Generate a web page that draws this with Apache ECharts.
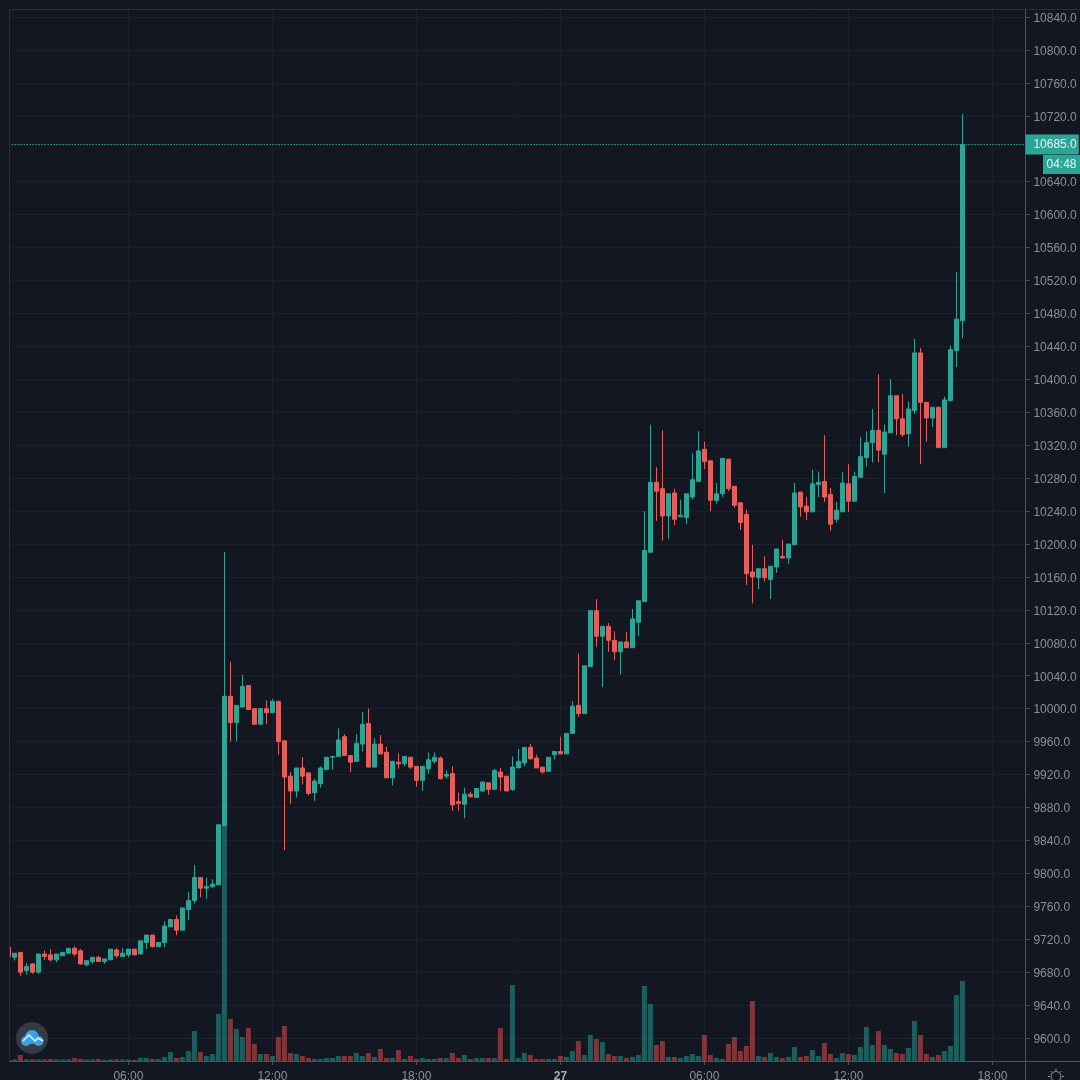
<!DOCTYPE html>
<html>
<head>
<meta charset="utf-8">
<title>Candlestick</title>
<style>
  html, body { margin: 0; padding: 0; background: #131722; }
  #chart { width: 1080px; height: 1080px; }
</style>
<script src="https://cdn.jsdelivr.net/npm/echarts@6/dist/echarts.min.js"></script>
</head>
<body>
<div id="chart"></div>
<script>
const opens = [
  9710, 9698, 9704, 9682, 9690, 9680, 9702, 9701, 9695, 9700, 9703, 9709, 9706, 9689, 9693, 9698, 9693, 9695, 9707, 9699,
  9701, 9708, 9702, 9716, 9725, 9711, 9716, 9735, 9744, 9731, 9756, 9767, 9795, 9782, 9784, 9786, 9858, 10015, 9983, 10002,
  10028, 10000, 9981, 10000, 9995, 10009, 9961, 9918, 9900, 9928, 9922, 9898, 9909, 9926, 9941, 9942, 9966, 9943, 9936, 9957,
  9982, 9929, 9957, 9947, 9916, 9935, 9933, 9941, 9930, 9913, 9927, 9936, 9940, 9918, 9921, 9887, 9884, 9896, 9892, 9900,
  9910, 9902, 9923, 9918, 9902, 9928, 9934, 9953, 9940, 9929, 9924, 9944, 9948, 9945, 9970, 10004, 9994, 10051, 10119, 10088,
  10100, 10083, 10069, 10081, 10074, 10105, 10130, 10190, 10275, 10267, 10234, 10262, 10233, 10232, 10257, 10276, 10315, 10301, 10253, 10261,
  10303, 10270, 10250, 10236, 10166, 10159, 10170, 10157, 10172, 10185, 10183, 10199, 10263, 10246, 10239, 10272, 10276, 10260, 10230, 10239,
  10273, 10252, 10281, 10305, 10323, 10338, 10309, 10335, 10380, 10352, 10334, 10362, 10432, 10372, 10353, 10366, 10317, 10374, 10435, 10471
];
const closes = [
  9699, 9703, 9680, 9687, 9680, 9702, 9699, 9695, 9702, 9704, 9709, 9702, 9690, 9694, 9698, 9693, 9696, 9708, 9700, 9703,
  9708, 9701, 9718, 9725, 9711, 9716, 9736, 9744, 9731, 9758, 9767, 9795, 9782, 9784, 9787, 9859, 10015, 9983, 10004, 10027,
  9999, 9981, 10000, 9995, 10009, 9960, 9917, 9900, 9928, 9918, 9897, 9912, 9928, 9941, 9942, 9962, 9943, 9935, 9958, 9981,
  9929, 9957, 9945, 9916, 9936, 9933, 9942, 9929, 9913, 9930, 9938, 9941, 9915, 9920, 9883, 9885, 9896, 9893, 9903, 9911,
  9902, 9925, 9917, 9900, 9929, 9936, 9953, 9939, 9928, 9923, 9941, 9948, 9945, 9970, 10003, 9994, 10052, 10119, 10088, 10100,
  10083, 10069, 10081, 10074, 10109, 10131, 10192, 10275, 10264, 10234, 10261, 10230, 10235, 10261, 10278, 10313, 10300, 10253, 10261, 10304,
  10267, 10247, 10226, 10164, 10160, 10170, 10159, 10173, 10194, 10183, 10200, 10262, 10245, 10239, 10273, 10275, 10257, 10224, 10241, 10274,
  10252, 10282, 10306, 10323, 10338, 10314, 10336, 10380, 10352, 10333, 10364, 10432, 10372, 10353, 10366, 10317, 10375, 10436, 10473, 10685
];
const lows = [
  9699, 9694, 9675, 9677, 9678, 9678, 9695, 9693, 9692, 9700, 9703, 9699, 9689, 9687, 9690, 9693, 9690, 9695, 9697, 9699,
  9698, 9701, 9702, 9708, 9710, 9711, 9710, 9735, 9725, 9731, 9743, 9763, 9771, 9769, 9782, 9786, 9858, 9960, 9960, 10002,
  9999, 9981, 9981, 9981, 9995, 9944, 9828, 9884, 9892, 9908, 9895, 9888, 9904, 9925, 9926, 9942, 9943, 9923, 9936, 9948,
  9929, 9929, 9945, 9916, 9907, 9927, 9930, 9927, 9905, 9900, 9921, 9933, 9914, 9915, 9876, 9876, 9867, 9892, 9892, 9899,
  9895, 9902, 9900, 9900, 9900, 9928, 9930, 9939, 9928, 9921, 9924, 9938, 9945, 9945, 9970, 9990, 9994, 10051, 10075, 10026,
  10069, 10059, 10042, 10074, 10074, 10088, 10130, 10190, 10228, 10204, 10206, 10223, 10233, 10224, 10254, 10276, 10291, 10240, 10249, 10257,
  10264, 10244, 10217, 10150, 10128, 10145, 10154, 10133, 10165, 10183, 10176, 10199, 10233, 10229, 10239, 10257, 10251, 10216, 10226, 10239,
  10239, 10252, 10281, 10294, 10299, 10299, 10262, 10335, 10332, 10330, 10318, 10358, 10297, 10324, 10342, 10317, 10317, 10374, 10415, 10450
];
const highs = [
  9710, 9703, 9704, 9691, 9691, 9702, 9706, 9708, 9702, 9704, 9709, 9711, 9708, 9694, 9698, 9700, 9696, 9708, 9709, 9709,
  9708, 9708, 9718, 9725, 9725, 9716, 9742, 9744, 9749, 9758, 9777, 9810, 9795, 9795, 9793, 9859, 10190, 10057, 10004, 10041,
  10028, 10000, 10000, 10010, 10012, 10009, 9961, 9923, 9928, 9941, 9922, 9915, 9930, 9941, 9942, 9976, 9969, 9943, 9969, 9996,
  10000, 9964, 9968, 9954, 9936, 9946, 9942, 9941, 9930, 9930, 9947, 9947, 9942, 9925, 9930, 9898, 9904, 9899, 9903, 9911,
  9910, 9927, 9928, 9918, 9942, 9951, 9953, 9957, 9944, 9929, 9941, 9948, 9966, 9970, 10009, 10067, 10052, 10119, 10133, 10100,
  10104, 10094, 10081, 10093, 10121, 10131, 10240, 10345, 10293, 10338, 10261, 10267, 10254, 10261, 10310, 10337, 10324, 10301, 10274, 10304,
  10303, 10270, 10250, 10242, 10199, 10170, 10185, 10173, 10194, 10205, 10200, 10274, 10263, 10257, 10290, 10288, 10332, 10268, 10251, 10287,
  10297, 10288, 10330, 10337, 10364, 10406, 10345, 10400, 10380, 10382, 10373, 10449, 10438, 10372, 10366, 10366, 10379, 10441, 10530, 10722
];
const volumes = [
  1, 1.5, 6, 1.5, 1.5, 1.5, 1.5, 2, 1.5, 1.5, 1.5, 3, 2, 1.5, 1.5, 2, 1, 1.5, 1.5, 1.5,
  1.5, 1, 3, 3, 2, 2, 4, 9, 3, 4, 10, 30, 9, 5, 7, 47, 236, 42, 32, 24,
  33, 17, 7, 7, 5, 24, 35, 8, 7, 5, 3, 2, 2, 3, 3, 5, 5, 5, 8, 5,
  8, 4, 12, 3, 3, 11, 2, 5, 2, 3, 2, 2, 3, 3, 8, 3, 6, 2, 3, 3,
  3, 3, 33, 2, 76, 3, 8, 6, 2, 2, 2, 2, 5, 4, 10, 20, 6, 26, 22, 19,
  7, 5, 5, 3, 4, 6, 75, 57, 16, 20, 4, 4, 3, 5, 7, 5, 26, 6, 3, 2,
  17, 24, 10, 15, 60, 5, 4, 8, 4, 3, 4, 14, 4, 5, 11, 5, 18, 7, 3, 8,
  7, 6, 14, 34, 16, 30, 16, 12, 8, 7, 13, 40, 26, 7, 4, 6, 10, 15, 66, 80
];
// 10680 is left out, the last price tag sits on top of it
const priceTicks = [
  9600, 9640, 9680, 9720, 9760, 9800, 9840, 9880, 9920, 9960, 10000, 10040, 10080, 10120, 10160, 10200,
  10240, 10280, 10320, 10360, 10400, 10440, 10480, 10520, 10560, 10600, 10640, 10720, 10760, 10800, 10840
];
const timeTicks = [20, 44, 68, 92, 116, 140, 164];
const lastPrice = 10685;
const countdown = '04:48';

// 15 minute bars from 01:00, with empty room to the right of the last one
const categories = [];
for (let i = 0; i < 170; i++) {
  const mins = (60 + i * 15) % 1440;
  categories.push(String(Math.floor(mins / 60)).padStart(2, '0') + ':' + String(mins % 60).padStart(2, '0'));
}

const UP = '#2ca596';
const DOWN = '#e65e5b';
const BG = '#131722';
const GRID = '#1c202b';
const AXIS = '#4c505b';
const TEXT = '#8b8f9a';
const FONT = '"Liberation Sans", Arial, sans-serif';

const chart = echarts.init(document.getElementById('chart'), null, { renderer: 'canvas' });

function gearRay(x1, y1, x2, y2) {
  return {
    type: 'line', z: 100,
    shape: { x1, y1, x2, y2 },
    style: { stroke: '#9598a1', lineWidth: 1 }
  };
}

chart.setOption({
  animation: false,
  backgroundColor: BG,
  textStyle: { fontFamily: FONT },
  grid: { left: 5.4, top: 9, width: 1020, height: 1052, containLabel: false, outerBoundsMode: 'none' },
  xAxis: {
    type: 'category',
    data: categories,
    boundaryGap: true,
    axisLine: { show: true, lineStyle: { color: AXIS, width: 1 } },
    axisTick: { show: true, alignWithLabel: true, length: 4, customValues: timeTicks, lineStyle: { color: AXIS } },
    axisLabel: {
      customValues: timeTicks,
      color: TEXT,
      fontSize: 12,
      fontFamily: FONT,
      margin: 10,
      formatter: v => (v === '00:00' ? '{day|27}' : v),
      rich: { day: { fontWeight: 'bold', color: '#a5a8b0', fontSize: 12, fontFamily: FONT } }
    },
    splitLine: { show: true, alignWithLabel: true, lineStyle: { color: GRID, width: 1 } }
  },
  yAxis: [
    {
      type: 'value',
      position: 'right',
      min: 9572.1,
      max: 10849.7,
      scale: true,
      axisLine: { show: true, lineStyle: { color: AXIS, width: 1 } },
      axisTick: { show: true, length: 4, customValues: priceTicks, lineStyle: { color: AXIS } },
      axisLabel: {
        customValues: priceTicks,
        margin: 8,
        showMinLabel: true,
        showMaxLabel: true,
        formatter: v => '{p|' + v.toFixed(1) + '}',
        rich: { p: { color: TEXT, fontSize: 12, fontFamily: FONT, padding: [3, 0, 0, 0] } }
      },
      splitLine: { show: true, lineStyle: { color: GRID, width: 1 } }
    },
    {
      // volume overlay, bar heights are in relative units
      type: 'value',
      min: 0,
      max: 1052,
      show: false,
      splitLine: { show: false }
    }
  ],
  series: [
    {
      name: 'Volume',
      type: 'bar',
      yAxisIndex: 1,
      barWidth: 5,
      z: 1,
      silent: true,
      data: volumes.map((v, i) => ({
        value: v,
        itemStyle: { color: closes[i] >= opens[i] ? 'rgba(38,166,154,0.5)' : 'rgba(239,83,80,0.5)' }
      }))
    },
    {
      name: 'Price',
      type: 'candlestick',
      yAxisIndex: 0,
      barWidth: 4.5,
      z: 2,
      silent: true,
      data: opens.map((o, i) => [o, closes[i], lows[i], highs[i]]),
      itemStyle: {
        color: UP,
        color0: DOWN,
        borderColor: UP,
        borderColor0: DOWN,
        borderWidth: 1
      },
      markLine: {
        silent: true,
        symbol: 'none',
        animation: false,
        lineStyle: { color: UP, type: [1.5, 1.5], width: 1, opacity: 1 },
        label: {
          show: true,
          position: 'end',
          distance: 0,
          formatter: lastPrice.toFixed(1),
          color: '#e8f5f3',
          fontSize: 12,
          fontFamily: FONT,
          backgroundColor: UP,
          padding: [6, 2, 2, 8]
        },
        data: [{ yAxis: lastPrice, lineStyle: { color: UP, type: [1.5, 1.5], width: 1 } }]
      }
    }
  ],
  graphic: [
    // left margin hides the part of the first bar that runs off the pane
    { type: 'rect', z: 100, shape: { x: 0, y: 0, width: 9, height: 1080 }, style: { fill: BG } },
    { type: 'line', z: 100, shape: { x1: 9.5, y1: 9.5, x2: 1080, y2: 9.5 }, style: { stroke: '#2a2e39', lineWidth: 1 } },
    { type: 'line', z: 100, shape: { x1: 9.5, y1: 9.5, x2: 9.5, y2: 1061 }, style: { stroke: '#2a2e39', lineWidth: 1 } },
    // pane corner at the bottom right
    { type: 'line', z: 100, shape: { x1: 1025, y1: 1061.5, x2: 1080, y2: 1061.5 }, style: { stroke: AXIS, lineWidth: 1 } },
    { type: 'line', z: 100, shape: { x1: 1025.5, y1: 1061, x2: 1025.5, y2: 1080 }, style: { stroke: AXIS, lineWidth: 1 } },
    { type: 'rect', z: 101, shape: { x: 1043, y: 155, width: 37, height: 19 }, style: { fill: UP } },
    {
      type: 'text', z: 102, x: 1061.5, y: 165,
      style: { text: countdown, fill: '#e8f5f3', font: '12px ' + FONT, align: 'center', verticalAlign: 'middle' }
    },
    // logo
    { type: 'circle', z: 100, shape: { cx: 32, cy: 1038, r: 16 }, style: { fill: '#363a45' } },
    { type: 'circle', z: 101, shape: { cx: 26, cy: 1041, r: 5 }, style: { fill: '#3aa1e6' } },
    { type: 'circle', z: 101, shape: { cx: 32, cy: 1037, r: 7 }, style: { fill: '#3aa1e6' } },
    { type: 'circle', z: 101, shape: { cx: 38.5, cy: 1041, r: 5 }, style: { fill: '#3aa1e6' } },
    {
      type: 'polyline', z: 102,
      shape: { points: [[23, 1041], [29, 1035], [35, 1041], [38, 1038], [43, 1041]] },
      style: { stroke: '#dff1fb', fill: 'none', lineWidth: 1.5 }
    },
    // settings icon
    { type: 'circle', z: 100, shape: { cx: 1056, cy: 1076.5, r: 5 }, style: { fill: 'none', stroke: '#9598a1', lineWidth: 1 } },
    gearRay(1056, 1068.5, 1056, 1070.5),
    gearRay(1048, 1076.5, 1050, 1076.5),
    gearRay(1062, 1076.5, 1064, 1076.5),
    gearRay(1050.5, 1071, 1052, 1072.5),
    gearRay(1061.5, 1071, 1060, 1072.5)
  ]
});

window.addEventListener('resize', () => chart.resize());
</script>
</body>
</html>
